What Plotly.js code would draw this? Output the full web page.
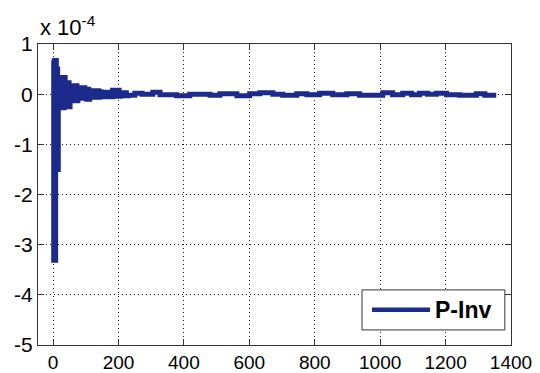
<!DOCTYPE html>
<html>
<head>
<meta charset="utf-8">
<script src="https://cdn.plot.ly/plotly-3.0.1.min.js"></script>
<style>
  html, body { margin: 0; padding: 0; background: #fff; }
  #chart { width: 540px; height: 373px; }
</style>
</head>
<body>
<div id="chart"></div>
<script>
// ---- data (values in units of 1e-4) ----
const seriesName = "P-Inv";
const exponentLabel = "x 10<sup>-4</sup>";
const sampleX = [
  0, 2, 4, 6, 8, 10, 12, 14, 16, 19, 22, 25, 28, 31, 34, 37, 40, 43, 46, 49,
  52, 55, 58, 61, 64, 67, 70, 73, 76, 79, 82, 85, 88, 91, 94, 97, 100, 103, 106, 109,
  112, 115, 118, 121, 124, 127, 130, 133, 136, 139, 142, 146, 150, 154, 158, 162, 166, 170, 174, 178,
  182, 186, 190, 194, 198, 202, 206, 212, 218, 224,
  230, 250, 272, 305, 327, 378, 418, 480, 510, 562, 601, 632, 672, 702, 745, 776, 815, 855, 898, 937,
  1008, 1038, 1069, 1096, 1120, 1145, 1172, 1203, 1243, 1294, 1320, 1355
];
const sampleY = [
  0.67, -3.31, 0.67, -3.31, 0.67, -1.5, 0.5, -1.5, 0.33, -0.27, 0.33, -0.27, 0.33, -0.27, 0.33, -0.25, 0.23, -0.25, 0.23, -0.25,
  0.17, -0.13, 0.17, -0.13, 0.17, -0.13, 0.17, -0.13, 0.13, -0.08, 0.13, -0.08, 0.13, -0.08, 0.13, -0.08, 0.10, -0.10, 0.10, -0.10,
  0.07, -0.06, 0.07, -0.06, 0.07, -0.06, 0.07, -0.06, 0.07, -0.06, 0.05, -0.05, 0.04, -0.05, 0.04, -0.05, 0.04, -0.05, 0.04, -0.05,
  0.08, -0.04, 0.08, -0.04, 0.08, -0.04, 0.03, -0.03, 0.03, -0.03,
  -0.02, 0.02, 0.0, 0.04, -0.01, -0.03, 0.0, -0.02, 0.01, -0.03, 0.01, 0.03, 0.0, -0.02, 0.01, -0.01, 0.02, -0.01, 0.01, -0.02,
  0.03, -0.01, 0.02, -0.01, 0.02, 0.0, 0.02, -0.01, -0.02, 0.01, -0.02, -0.02
];
const xTickVals = [0, 200, 400, 600, 800, 1000, 1200, 1400];
const yTickVals = [-5, -4, -3, -2, -1, 0, 1];

const lineColor = "#1c2a8c";
const fontFam = "'Liberation Sans', Arial, sans-serif";

const trace = {
  x: sampleX,
  y: sampleY,
  type: "scatter",
  mode: "lines",
  name: seriesName,
  line: { color: lineColor, width: 5, shape: "hv" },
  showlegend: false,
  hoverinfo: "skip"
};

const axisCommon = {
  showline: true,
  linecolor: "#333",
  linewidth: 1,
  mirror: "ticks",
  ticks: "inside",
  ticklen: 6,
  tickcolor: "#333",
  showgrid: true,
  gridcolor: "#222",
  gridwidth: 1,
  griddash: "1px,3px",
  zeroline: false
};

const layout = {
  width: 540,
  height: 373,
  margin: { l: 38, r: 29, t: 44, b: 28, pad: 0 },
  paper_bgcolor: "#fff",
  plot_bgcolor: "#fff",
  showlegend: false,
  xaxis: Object.assign({}, axisCommon, {
    range: [-46, 1400],
    tickvals: xTickVals,
    ticktext: xTickVals.map(String),
    tickfont: { family: fontFam, size: 19, color: "#000" }
  }),
  yaxis: Object.assign({}, axisCommon, {
    range: [-5, 1],
    tickvals: yTickVals,
    ticktext: yTickVals.map(String),
    tickfont: { family: fontFam, size: 21, color: "#000" }
  }),
  annotations: [
    {
      xref: "paper", yref: "paper", x: 0, y: 1,
      xanchor: "left", yanchor: "bottom", yshift: 2,
      text: exponentLabel, showarrow: false,
      font: { family: fontFam, size: 22, color: "#000" }
    },
    {
      xref: "paper", yref: "paper", x: 0.835, y: 0.117,
      xanchor: "left", yanchor: "middle",
      text: "<b>" + seriesName + "</b>", showarrow: false,
      font: { family: fontFam, size: 23, color: "#000" }
    }
  ],
  shapes: [
    {
      type: "rect", xref: "paper", yref: "paper",
      x0: 0.685, x1: 0.987, y0: 0.05, y1: 0.183,
      line: { color: "#333", width: 1 }, fillcolor: "#fff", layer: "above"
    },
    {
      type: "line", xref: "paper", yref: "paper",
      x0: 0.706, x1: 0.829, y0: 0.117, y1: 0.117,
      line: { color: lineColor, width: 4.5 }, layer: "above"
    }
  ]
};

Plotly.newPlot("chart", [trace], layout, { staticPlot: true, displayModeBar: false });
</script>
</body>
</html>
